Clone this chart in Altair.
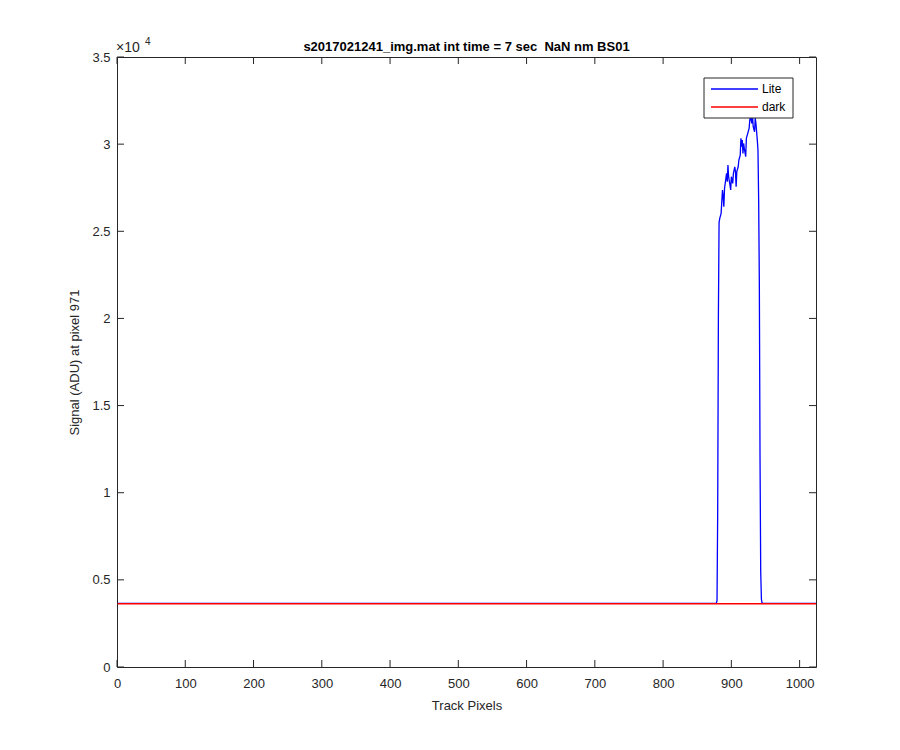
import altair as alt
import pandas as pd

# ---- data ----
lite_x = [1, 878, 879, 880, 881, 882, 883, 885, 887, 888, 889, 890, 891, 893, 894, 895, 896,
          898, 899, 900, 902, 903, 905, 906, 907, 908, 910, 911, 913, 914, 915, 916, 917,
          918, 919, 921, 922, 924, 926, 927, 928, 930, 931, 932, 934, 935, 936, 938, 939,
          940, 941, 942, 943, 944, 945, 1024]
lite_y = [3650, 3655, 3800, 9000, 20000, 25500, 25740, 26030, 27370, 26990, 26410, 27460, 27750,
          28320, 27840, 28800, 28130, 27650, 27370, 28130, 27750, 28320, 28700, 28420, 27560,
          28420, 28700, 29090, 29370, 30330, 29850, 30230, 29470, 30040, 29750, 29280, 30330,
          30620, 30900, 31380, 31600, 31190, 31700, 31000, 30710, 31500, 31190, 30230, 29660,
          26790, 22000, 12000, 5500, 3900, 3660, 3650]
dark_x = [1, 1024]
dark_y = [3630, 3630]
series = ["Lite", "dark"]
colors = ["#0000FF", "#FF0000"]
x_ticks = [0, 100, 200, 300, 400, 500, 600, 700, 800, 900, 1000]
y_ticks = [0, 5000, 10000, 15000, 20000, 25000, 30000, 35000]
title_text = "s2017021241_img.mat int time = 7 sec\u00a0 NaN nm BS01"
x_title = "Track Pixels"
y_title = "Signal (ADU) at pixel 971"

W, H = 699, 610
AX = "#262626"
FONT = "Liberation Sans"

lite_df = pd.DataFrame({"px": lite_x, "sig": lite_y, "s": "Lite"})
dark_df = pd.DataFrame({"px": dark_x, "sig": dark_y, "s": "dark"})

xs = alt.Scale(domain=[0, 1024], nice=False, zero=False)
ys = alt.Scale(domain=[0, 35000], nice=False)
cs = alt.Scale(domain=series, range=colors)
x_axis = alt.Axis(values=x_ticks, ticks=False, domain=False, grid=False, format="d",
                  labelFlush=False, labelPadding=10, titlePadding=9)
y_axis = alt.Axis(values=y_ticks, ticks=False, domain=False, grid=False,
                  labelPadding=7, titlePadding=10, labelExpr="datum.value / 10000")


def line_layer(d):
    return alt.Chart(d).mark_line(strokeWidth=1.3, clip=True).encode(
        x=alt.X("px:Q", scale=xs, title=x_title, axis=x_axis),
        y=alt.Y("sig:Q", scale=ys, title=y_title, axis=y_axis),
        color=alt.Color("s:N", scale=cs, legend=None),
    )


lite_line = line_layer(lite_df)
dark_line = line_layer(dark_df)

xt = pd.DataFrame({"t": x_ticks})
yt = pd.DataFrame({"t": y_ticks})
tick_bottom = alt.Chart(xt).mark_rule(color=AX, strokeWidth=1).encode(
    x=alt.X("t:Q", scale=xs, title=x_title, axis=x_axis), y=alt.value(H), y2=alt.value(H - 7))
tick_top = alt.Chart(xt).mark_rule(color=AX, strokeWidth=1).encode(
    x=alt.X("t:Q", scale=xs, title=x_title, axis=x_axis), y=alt.value(0), y2=alt.value(7))
tick_left = alt.Chart(yt).mark_rule(color=AX, strokeWidth=1).encode(
    y=alt.Y("t:Q", scale=ys, title=y_title, axis=y_axis), x=alt.value(0), x2=alt.value(7))
tick_right = alt.Chart(yt).mark_rule(color=AX, strokeWidth=1).encode(
    y=alt.Y("t:Q", scale=ys, title=y_title, axis=y_axis), x=alt.value(W), x2=alt.value(W - 7))

one = pd.DataFrame({"a": [0]})
title_mark = alt.Chart(one).mark_text(text=title_text, align="center", baseline="alphabetic",
                                      font=FONT, fontSize=13, fontWeight="bold",
                                      color="black").encode(
    x=alt.value(W / 2), y=alt.value(-6))
expo_base = alt.Chart(one).mark_text(text="×10", align="left", baseline="alphabetic",
                                     font=FONT, fontSize=14, color=AX).encode(
    x=alt.value(-1), y=alt.value(-5))
expo_pow = alt.Chart(one).mark_text(text="4", align="left", baseline="alphabetic",
                                    font=FONT, fontSize=10, color=AX).encode(
    x=alt.value(28), y=alt.value(-12))

# legend box (drawn on top of the curves, as in the reference)
leg_box = alt.Chart(one).mark_rect(fill="white", stroke=AX, strokeWidth=1).encode(
    x=alt.value(587), x2=alt.value(676), y=alt.value(21), y2=alt.value(61))
leg_items = []
for i, (name, col) in enumerate(zip(series, colors)):
    yy = 32 + 18 * i
    leg_items.append(alt.Chart(one).mark_rule(color=col, strokeWidth=1.5).encode(
        x=alt.value(594), x2=alt.value(641), y=alt.value(yy)))
    leg_items.append(alt.Chart(one).mark_text(text=name, align="left", baseline="middle",
                                              font=FONT, fontSize=12, color="black").encode(
        x=alt.value(645), y=alt.value(yy)))

chart = alt.layer(lite_line, dark_line, tick_bottom, tick_top, tick_left, tick_right,
                  title_mark, expo_base, expo_pow, leg_box, *leg_items).properties(
    width=W, height=H,
    autosize=alt.AutoSizeParams(type="none"),
    padding={"left": 109, "top": 49, "right": 76, "bottom": 75},
    background="white",
).configure_view(stroke=AX, strokeWidth=1).configure_axis(
    labelFont=FONT, labelFontSize=13, labelColor=AX,
    titleFont=FONT, titleFontSize=13, titleColor=AX, titleFontWeight="normal",
)

chart.save("out.html", embed_options={"renderer": "svg", "actions": False})
